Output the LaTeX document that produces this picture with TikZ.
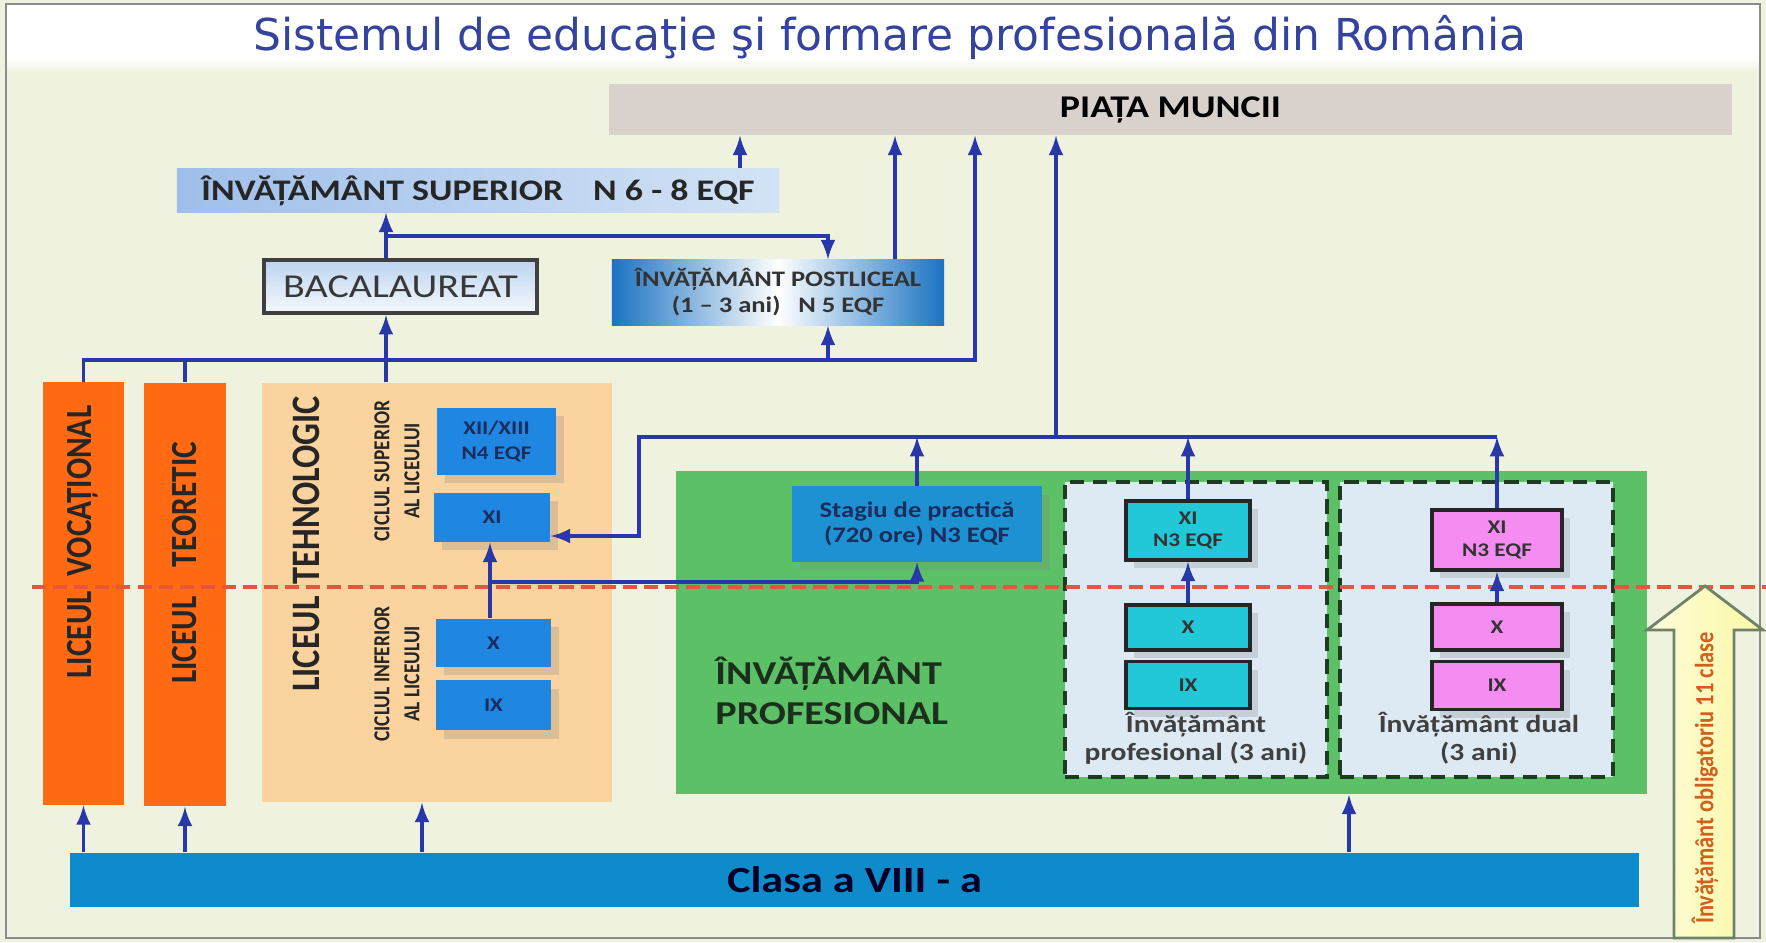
\documentclass[tikz,border=0pt]{standalone}
\usepackage{fontspec}
\setmainfont{Carlito}[FakeStretch=1.2]
\newfontfamily\vfont{Carlito}[FakeStretch=0.85]
\newfontfamily\tfont{DejaVu Sans}
\usetikzlibrary{positioning,shadows}
\tikzset{>=latex}
\definecolor{bgc}{HTML}{EEF2DF}
\definecolor{titlec}{HTML}{34439D}
\definecolor{piatac}{HTML}{D9D1CB}
\definecolor{supl}{HTML}{9FBFEA}
\definecolor{supr}{HTML}{D3E3F5}
\definecolor{bacc}{HTML}{BDD4F0}
\definecolor{postc}{HTML}{1B73C2}
\definecolor{liceuc}{HTML}{FF6A13}
\definecolor{tehc}{HTML}{FAD39E}
\definecolor{clsc}{HTML}{1F87E2}
\definecolor{greenc}{HTML}{5CC166}
\definecolor{panelc}{HTML}{DDEAF3}
\definecolor{dashc}{HTML}{1E3B22}
\definecolor{stagc}{HTML}{1D91D1}
\definecolor{cyanc}{HTML}{22C8D8}
\definecolor{pinkc}{HTML}{F48CF2}
\definecolor{clasac}{HTML}{0E8BCB}
\definecolor{linkc}{HTML}{2838A8}
\definecolor{redl}{HTML}{E8553F}
\definecolor{navy}{HTML}{1B2D5C}
\definecolor{darkg}{HTML}{1C2E1C}
\definecolor{yelc}{HTML}{FBF8A4}
\definecolor{yeld}{HTML}{6F8268}
\definecolor{yelt}{HTML}{D0601C}
\tikzset{
  link/.style={color=linkc, line width=0.9pt, ->},
  wire/.style={color=linkc, line width=0.9pt},
  box/.style={rectangle, inner sep=0pt, align=center},
  lic/.style={box, fill=liceuc, minimum width=0.81cm, minimum height=4.22cm},
  rot/.style={rotate=90, text=black!85, font=\vfont\bfseries\fontsize{10.5}{12}\selectfont},
  cls/.style={box, fill=clsc, text=navy, minimum width=1.15cm, font=\bfseries\fontsize{5.5}{7}\selectfont, drop shadow={opacity=0.25}},
  grd/.style={box, draw=black!85, line width=1pt, minimum width=1.24cm, text=black!80, font=\bfseries\fontsize{5.5}{6.5}\selectfont, drop shadow={opacity=0.25}},
  panel/.style={box, fill=panelc, draw=dashc, line width=1.3pt, dash pattern=on 4pt off 2.5pt, minimum height=2.95cm},
  note/.style={align=center, text=black!75, font=\bfseries\fontsize{7}{8}\selectfont}
}

\begin{document}
\begin{tikzpicture}[x=0.01cm, y=-0.01cm]
  \useasboundingbox (0,0) rectangle (1766,942);
  \fill[bgc] (0,0) rectangle (1766,942);
  \fill[white] (6,4) rectangle (1760,58);
  \shade[top color=white, bottom color=bgc] (6,58) rectangle (1760,72);
  \draw[black!45, line width=0.6pt] (6,4) rectangle (1760,938);
  \node[text=titlec, font=\tfont\fontsize{12.5}{14}\selectfont] (title) at (890,37) {Sistemul de educaţie şi formare profesională din România};

  \node[box, fill=piatac, minimum width=11.23cm, minimum height=0.51cm, font=\bfseries\fontsize{9}{10}\selectfont] (piata) at (1170.5,109.5) {PIAȚA MUNCII};
  \node[box, left color=supl, right color=supr, minimum width=6.02cm, minimum height=0.43cm, font=\bfseries\fontsize{8.5}{10}\selectfont, text=black!85] (sup) at (478,190.5) {ÎNVĂȚĂMÂNT SUPERIOR\hspace{1em}N 6 - 8 EQF};
  \node[box, top color=bacc, bottom color=white!85!bacc, draw=black!75, line width=1.2pt, minimum width=2.73cm, minimum height=0.53cm, font=\fontsize{9.5}{11}\selectfont, text=black!78] (bac) at (400.5,286.5) {BACALAUREAT};
  \node[box, left color=postc, right color=postc, middle color=white, minimum width=3.32cm, minimum height=0.65cm, font=\bfseries\fontsize{6.3}{7.4}\selectfont, text=black!80] (postl) at (778,292.5) {ÎNVĂȚĂMÂNT POSTLICEAL\\(1 -- 3 ani)\hspace{0.8em}N 5 EQF};

  \node[lic] (voc) at (83.5,593.5) {};
  \node[lic, minimum height=4.23cm] (teo) at (185,594.5) {};
  \node[box, fill=tehc, minimum width=3.5cm, minimum height=4.19cm] (teh) at (437,592.5) {};
  \node[rot] (vocl) at (83,542) {LICEUL\hspace{0.4em}VOCAȚIONAL};
  \node[rot] (teol) at (185,563) {LICEUL\hspace{0.8em}TEORETIC};
  \node[rot, font=\vfont\bfseries\fontsize{11.5}{13}\selectfont] (tehl) at (306,544) {LICEUL\hspace{0.3em}TEHNOLOGIC};
  \node[rot, align=center, font=\vfont\bfseries\fontsize{6.5}{8.5}\selectfont] (csup) at (397,471) {CICLUL SUPERIOR\\AL LICEULUI};
  \node[rot, align=center, font=\vfont\bfseries\fontsize{6.5}{8.5}\selectfont] (cinf) at (397,674) {CICLUL INFERIOR\\AL LICEULUI};

  \node[cls, minimum width=1.19cm, minimum height=0.67cm] (t12) at (496.5,441.5) {XII/XIII\\N4 EQF};
  \node[cls, minimum width=1.16cm, minimum height=0.49cm] (t11) at (492,517.5) {XI};
  \node[cls, minimum height=0.48cm] (t10) at (493.5,643) {X};
  \node[cls, minimum height=0.5cm, below=0.12cm of t10] (t9) {IX};

  \node[box, fill=greenc, minimum width=9.71cm, minimum height=3.23cm] (prof) at (1161.5,632.5) {};
  \node[anchor=west, align=left, text=darkg, font=\bfseries\fontsize{9.5}{11.4}\selectfont] (profl) at (703,691) {ÎNVĂȚĂMÂNT\\PROFESIONAL};
  \node[panel, minimum width=2.62cm] (pan1) at (1196,629.5) {};
  \node[panel, minimum width=2.73cm] (pan2) at (1476.5,629.5) {};
  \node[box, fill=stagc, minimum width=2.5cm, minimum height=0.75cm, text=navy, font=\bfseries\fontsize{6.3}{7}\selectfont, drop shadow={opacity=0.25}] (stag) at (917,524) {Stagiu de practică\\(720 ore) N3 EQF};

  \node[grd, fill=cyanc, minimum height=0.59cm] (p11) at (1188,530.5) {XI\\N3 EQF};
  \node[grd, fill=cyanc, minimum height=0.45cm] (p10) at (1188,627.5) {X};
  \node[grd, fill=cyanc, minimum height=0.47cm, below=0.08cm of p10] (p9) {IX};
  \node[grd, fill=pinkc, minimum width=1.3cm, minimum height=0.6cm] (d11) at (1497,540) {XI\\N3 EQF};
  \node[grd, fill=pinkc, minimum width=1.3cm, minimum height=0.46cm] (d10) at (1497,627) {X};
  \node[grd, fill=pinkc, minimum width=1.3cm, minimum height=0.48cm, below=0.08cm of d10] (d9) {IX};
  \node[note] (pnote) at (1196,738) {Învățământ\\profesional (3 ani)};
  \node[note] (dnote) at (1479,738) {Învățământ dual\\(3 ani)};

  \node[box, fill=clasac, minimum width=15.69cm, minimum height=0.54cm, text=black!85!blue, font=\bfseries\fontsize{10.5}{12}\selectfont] (clasa) at (854.5,880) {Clasa a VIII - a};

  \draw[redl, line width=0.9pt, dash pattern=on 4pt off 2pt] (32,587) -- (1766,587);

  \filldraw[left color=white!60!yelc, right color=yelc, draw=yeld, line width=0.8pt] (1674,938) -- (1674,630) -- (1647,630) -- (1705,586) -- (1763,630) -- (1734,630) -- (1734,938) -- cycle;
  \node[rotate=90, text=yelt, font=\vfont\bfseries\fontsize{7.5}{9}\selectfont] (oblig) at (1705,778) {Învățământ obligatoriu 11 clase};

  \coordinate (xsup) at (740,0);
  \coordinate (xbac) at (386,0);
  \coordinate (jb) at (386,236);
  \coordinate (xpl) at (828,0);
  \coordinate (xpl2) at (895,0);
  \coordinate (busA) at (975,360);
  \coordinate (busB) at (1497,437);
  \coordinate (xmid) at (1056,0);
  \coordinate (xk) at (639,536);
  \coordinate (jt) at (490,582);
  \coordinate (xteh) at (422,0);
  \coordinate (xprof) at (1349,0);

  \draw[link] (sup.north -| xsup) -- (piata.south -| xsup);
  \draw[link] (bac.north -| xbac) -- (sup.south -| xbac);
  \draw[link] (jb) -| (postl.north -| xpl);
  \draw[link] (postl.north -| xpl2) -- (piata.south -| xpl2);
  \draw[link] (voc.north) |- (busA) -- (piata.south -| busA);
  \draw[wire] (teo.north) -- (teo.north |- busA);
  \draw[link] (teh.north -| xbac) -- (bac.south -| xbac);
  \draw[link] (xpl |- busA) -- (postl.south -| xpl);

  \draw[link] (stag.north) -- (stag.north |- busB);
  \draw[link] (p11.north) -- (p11.north |- busB);
  \draw[link] (d11.north) -- (d11.north |- busB);
  \draw[link] (busB) -- (xk |- busB) -- (xk) -- (xk -| t11.east);
  \draw[link] (xmid |- busB) -- (piata.south -| xmid);

  \draw[link] (t10.north -| jt) -- (t11.south -| jt);
  \draw[link] (jt) -| (stag.south);
  \draw[link] (p10) -- (p11);
  \draw[link] (d10) -- (d11);

  \draw[link] (clasa.north -| voc) -- (voc.south);
  \draw[link] (clasa.north -| teo) -- (teo.south);
  \draw[link] (clasa.north -| xteh) -- (teh.south -| xteh);
  \draw[link] (clasa.north -| xprof) -- (prof.south -| xprof);
\end{tikzpicture}
\end{document}
